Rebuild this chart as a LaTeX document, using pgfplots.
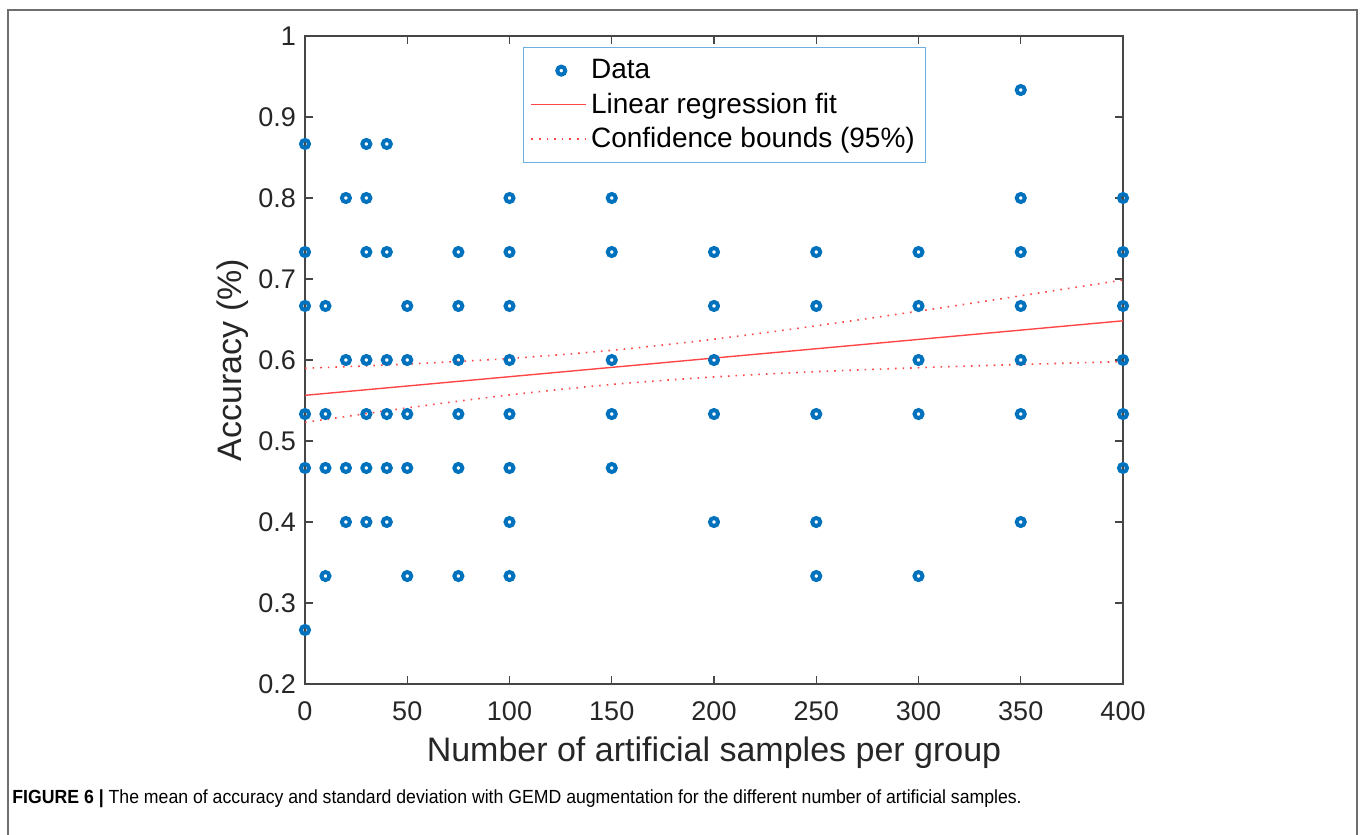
\documentclass[border=0pt]{standalone}
\usepackage{pgfplots}
\pgfplotsset{compat=1.18}
\usepackage{pgfplotstable}
\usepackage{fontspec}
\setmainfont{Liberation Sans}
\definecolor{mblue}{RGB}{0,114,189}
\definecolor{mred}{RGB}{255,70,70}
\definecolor{axgray}{RGB}{70,70,70}
\definecolor{txtgray}{RGB}{38,38,38}
\definecolor{legblue}{RGB}{110,175,225}
\definecolor{framegray}{RGB}{110,110,110}

\pgfplotsset{
  markleg/.style={legend image code/.code={\draw[##1] plot coordinates {(15pt,0pt)};}},
  lineleg/.style={legend image code/.code={\draw[##1, draw=mred] (0pt,0pt) -- (27.5pt,0pt);}},
}

\pgfplotstableread{
x y
0 0.8667
0 0.7333
0 0.6667
0 0.5333
0 0.4667
0 0.2667
10 0.6667
10 0.5333
10 0.4667
10 0.3333
20 0.8
20 0.6
20 0.4667
20 0.4
30 0.8667
30 0.8
30 0.7333
30 0.6
30 0.5333
30 0.4667
30 0.4
40 0.8667
40 0.7333
40 0.6
40 0.5333
40 0.4667
40 0.4
50 0.6667
50 0.6
50 0.5333
50 0.4667
50 0.3333
75 0.7333
75 0.6667
75 0.6
75 0.5333
75 0.4667
75 0.3333
100 0.8
100 0.7333
100 0.6667
100 0.6
100 0.5333
100 0.4667
100 0.4
100 0.3333
150 0.8
150 0.7333
150 0.6
150 0.5333
150 0.4667
200 0.7333
200 0.6667
200 0.6
200 0.5333
200 0.4
250 0.7333
250 0.6667
250 0.5333
250 0.4
250 0.3333
300 0.7333
300 0.6667
300 0.6
300 0.5333
300 0.3333
350 0.9333
350 0.8
350 0.7333
350 0.6667
350 0.6
350 0.5333
350 0.4
400 0.8
400 0.7333
400 0.6667
400 0.6
400 0.5333
400 0.4667
}\data

\pgfplotstableread{
x fit upper lower
0 0.5564 0.5898 0.5230
50 0.5679 0.5950 0.5409
100 0.5794 0.6019 0.5569
150 0.5909 0.6120 0.5698
200 0.6024 0.6257 0.5791
250 0.6139 0.6422 0.5856
300 0.6254 0.6603 0.5905
350 0.6369 0.6793 0.5945
400 0.6484 0.6988 0.5980
}\fit

\begin{document}
\begin{tikzpicture}[x=0.5pt,y=-0.5pt]
\useasboundingbox (0,0) rectangle (1363,834);
\draw[framegray, line width=1pt] (8,840) -- (8,10) -- (1357,10) -- (1357,840);
\node[anchor=base west, inner sep=0pt, font=\fontsize{9.5}{10}\selectfont] at (12,803)
  {\scalebox{0.93}[1]{\textbf{FIGURE 6 |} The mean of accuracy and standard deviation with GEMD augmentation for the different number of artificial samples.}};
\begin{axis}[
  at={(152.5pt,-342pt)}, anchor=south west,
  scale only axis, width=409pt, height=324pt,
  xmin=0, xmax=400, ymin=0.2, ymax=1,
  xtick={0,50,...,400},
  ytick={0.2,0.3,0.4,0.5,0.6,0.7,0.8,0.9,1},
  yticklabels={0.2,0.3,0.4,0.5,0.6,0.7,0.8,0.9,1},
  tick align=inside, major tick length=4pt,
  axis line style={axgray, line width=0.6pt},
  tick style={axgray, line width=0.6pt},
  ticklabel style={font=\fontsize{13.5}{15}\selectfont, text=txtgray},
  /pgf/number format/assume math mode=true,
  xticklabel style={yshift=-5.5pt},
  yticklabel style={xshift=-1pt},
  label style={font=\fontsize{17}{19}\selectfont, text=txtgray},
  xlabel={Number of artificial samples per group},
  ylabel={Accuracy (\%)},
  xlabel style={yshift=-1pt},
  ylabel style={yshift=-2pt},
  legend style={at={(0.2665,0.983)}, anchor=north west, draw=legblue, line width=0.5pt,
    font=\fontsize{14}{17}\selectfont, cells={anchor=west}, inner xsep=3.5pt, inner ysep=4pt,
    row sep=1.5pt},
  legend cell align=left,
]
\addplot[only marks, mark=o, mark size=2pt, mblue, line width=2pt, markleg]
  table[x=x,y=y]{\data};
\addlegendentry{Data}
\addplot[mred, draw=mred, line width=0.7pt, no marks, lineleg]
  table[x=x,y=fit]{\fit};
\addlegendentry{Linear regression fit}
\addplot[mred, draw=mred, line width=0.8pt, no marks, dash pattern=on 0.8pt off 3pt, smooth, lineleg]
  table[x=x,y=upper]{\fit};
\addlegendentry{Confidence bounds (95\%)}
\addplot[mred, draw=mred, line width=0.8pt, no marks, dash pattern=on 0.8pt off 3pt, smooth, forget plot]
  table[x=x,y=lower]{\fit};
\end{axis}
\end{tikzpicture}
\end{document}
